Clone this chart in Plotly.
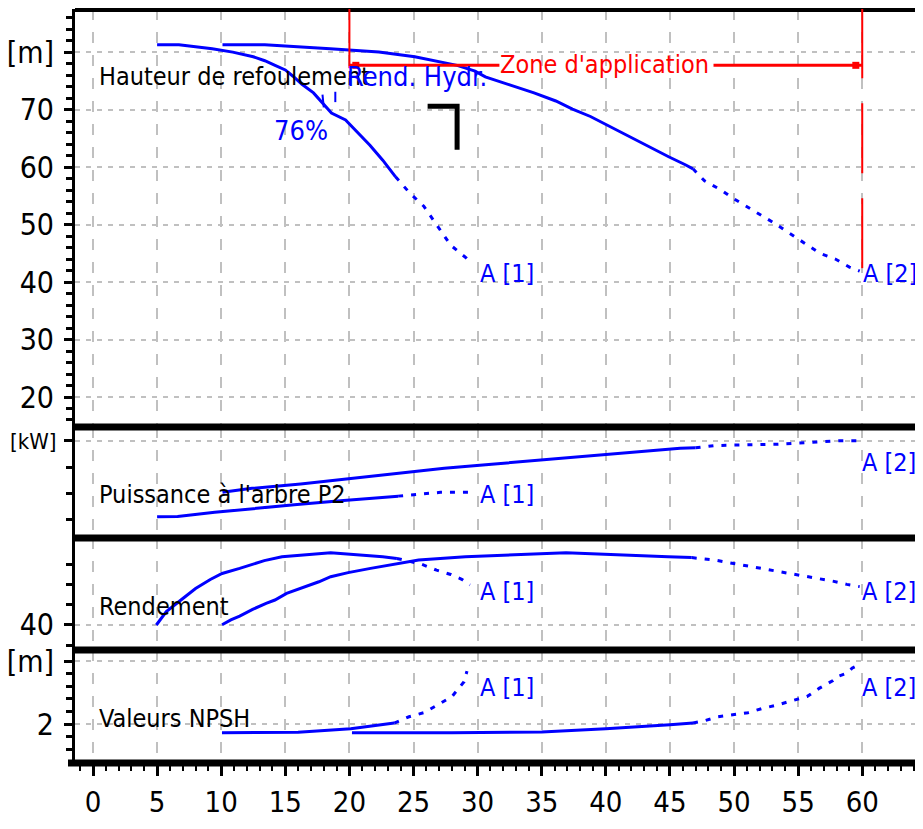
import plotly.graph_objects as go

# ---------------- data ----------------
flow_ticks = list(range(0, 61, 5))

# Hauteur de refoulement [m]
head1_q = [5.0, 6.7, 9.3, 10.9, 12.5, 13.4, 14.2, 15.0, 15.6, 16.3, 17.2, 18.1, 18.6, 19.7, 20.7, 21.6, 22.6, 23.6]
head1_h = [81.3, 81.3, 80.6, 80.0, 79.2, 78.5, 77.7, 76.9, 75.8, 74.4, 72.9, 70.6, 69.4, 68.2, 65.9, 63.8, 61.2, 58.3]
head1_q_ext = [23.6, 24.7, 25.8, 26.8, 27.9, 29.1, 29.4]
head1_h_ext = [58.3, 55.5, 53.2, 49.9, 46.4, 44.2, 43.5]

head2_q = [10.1, 13.4, 18.5, 22.3, 25.1, 26.7, 28.4, 29.8, 30.6, 32.5, 34.4, 36.1, 37.4, 38.8, 40.0, 41.3, 42.5, 43.7, 44.9, 46.2, 46.8]
head2_h = [81.3, 81.3, 80.6, 80.0, 79.2, 78.5, 77.7, 76.7, 75.7, 74.3, 72.9, 71.5, 70.1, 68.8, 67.4, 66.0, 64.6, 63.2, 61.8, 60.4, 59.7]
head2_q_ext = [46.8, 47.7, 49.0, 49.9, 53.1, 54.5, 55.6, 56.7, 57.9, 59.0, 59.8]
head2_h_ext = [59.7, 57.6, 56.0, 54.6, 50.3, 48.2, 46.6, 45.0, 44.0, 42.6, 41.9]

# Puissance a l'arbre P2 [kW]
pow1_q = [5.0, 6.6, 9.5, 12.3, 15.7, 19.3, 22.5, 23.8]
pow1_p = [2.280, 2.282, 2.322, 2.356, 2.394, 2.432, 2.468, 2.476]
pow1_q_ext = [23.8, 25.5, 27.1, 29.4]
pow1_p_ext = [2.476, 2.496, 2.512, 2.512]

pow2_q = [10.1, 12.4, 16.2, 19.0, 21.8, 24.6, 27.4, 31.1, 34.9, 38.6, 42.5, 45.8, 47.0]
pow2_p = [2.512, 2.550, 2.591, 2.629, 2.667, 2.702, 2.740, 2.779, 2.817, 2.855, 2.893, 2.931, 2.935]
pow2_q_ext = [47.0, 48.5, 53.4, 58.4, 59.8]
pow2_p_ext = [2.935, 2.957, 2.969, 3.003, 3.003]

# Rendement [%]
eff1_q = [4.94, 5.72, 6.86, 8.0, 9.15, 10.07, 11.44, 13.36, 14.74, 18.54, 22.6, 23.7]
eff1_e = [40.0, 46.6, 52.3, 58.0, 62.4, 65.4, 67.9, 71.7, 73.6, 75.6, 73.6, 72.8]
eff1_q_ext = [23.7, 25.6, 26.8, 27.9, 28.8, 29.4]
eff1_e_ext = [72.8, 70.0, 67.0, 64.9, 62.4, 59.7]

eff2_q = [10.07, 10.75, 11.44, 12.45, 13.5, 14.19, 15.1, 16.25, 17.62, 18.54, 19.9, 21.65, 23.43, 25.4, 29.05, 36.9, 44.85, 46.7]
eff2_e = [40.1, 42.5, 44.4, 47.7, 50.7, 52.3, 55.6, 58.1, 61.3, 63.8, 65.8, 67.9, 70.0, 72.0, 73.6, 75.6, 73.6, 73.2]
eff2_q_ext = [46.7, 48.5, 49.7, 50.8, 51.9, 53.1, 54.2, 55.4, 56.5, 57.7, 58.8, 59.8]
eff2_e_ext = [73.2, 72.0, 70.6, 69.4, 68.2, 67.0, 65.8, 64.4, 63.0, 61.6, 60.0, 58.9]

# Valeurs NPSH [m]
npsh1_q = [10.06, 16.0, 20.1, 22.5, 23.5]
npsh1_n = [1.72, 1.74, 1.85, 1.98, 2.03]
npsh1_q_ext = [23.5, 24.65, 25.82, 26.91, 28.0, 28.24, 28.94, 29.17]
npsh1_n_ext = [2.03, 2.23, 2.36, 2.61, 2.87, 2.99, 3.34, 3.68]

npsh2_q = [20.2, 28.0, 35.0, 40.0, 45.0, 46.8]
npsh2_n = [1.72, 1.72, 1.75, 1.85, 1.98, 2.03]
npsh2_q_ext = [46.8, 47.74, 48.75, 51.09, 52.26, 53.35, 54.52, 55.69, 56.63, 57.72, 58.03, 58.89, 59.2, 59.91]
npsh2_n_ext = [2.03, 2.11, 2.23, 2.36, 2.5, 2.6, 2.74, 2.87, 3.13, 3.38, 3.5, 3.63, 3.77, 3.91]

zone_start, zone_end = 20, 60
eta_label = "76%"

# ---------------- style ----------------
FONT = "Liberation Sans Narrow, DejaVu Sans Condensed, Liberation Sans, sans-serif"
BLUE = "#0000ff"
RED = "#ff0000"
GRID = "#c0c0c0"
PAGE = 8                      # default body margin of the html page
W, H = 923 - PAGE, 829 - PAGE
LEFT, TOP, BOT = 75, 9, 762   # plot area in window pixels


def f(py):
    return (BOT - py) / (BOT - TOP)


fig = go.Figure()


def curve(q, v, xa, ya, dotted=False):
    fig.add_trace(go.Scatter(
        x=q, y=v, mode="lines", xaxis=xa, yaxis=ya, hoverinfo="skip",
        line=dict(color=BLUE, width=3, dash="5px,8px" if dotted else "solid"),
    ))


curve(head1_q, head1_h, "x", "y")
curve(head1_q_ext, head1_h_ext, "x", "y", True)
curve(head2_q, head2_h, "x", "y")
curve(head2_q_ext, head2_h_ext, "x", "y", True)
curve(pow1_q, pow1_p, "x2", "y2")
curve(pow1_q_ext, pow1_p_ext, "x2", "y2", True)
curve(pow2_q, pow2_p, "x2", "y2")
curve(pow2_q_ext, pow2_p_ext, "x2", "y2", True)
curve(eff1_q, eff1_e, "x3", "y3")
curve(eff1_q_ext, eff1_e_ext, "x3", "y3", True)
curve(eff2_q, eff2_e, "x3", "y3")
curve(eff2_q_ext, eff2_e_ext, "x3", "y3", True)
curve(npsh1_q, npsh1_n, "x4", "y4")
curve(npsh1_q_ext, npsh1_n_ext, "x4", "y4", True)
curve(npsh2_q, npsh2_n, "x4", "y4")
curve(npsh2_q_ext, npsh2_n_ext, "x4", "y4", True)

# black corner mark (Rend. Hydr. indicator)
fig.add_trace(go.Scatter(x=[26.1, 28.4, 28.4], y=[70.6, 70.6, 63.0], mode="lines",
                         xaxis="x", yaxis="y", hoverinfo="skip",
                         line=dict(color="black", width=5)))
# small blue ticks at the efficiency iso point
fig.add_trace(go.Scatter(x=[17.9, 18.0, None, 18.9, 18.9], y=[72.6, 70.4, None, 73.1, 71.3],
                         mode="lines", xaxis="x", yaxis="y", hoverinfo="skip",
                         line=dict(color=BLUE, width=2)))
# zone arrow end markers
fig.add_trace(go.Scatter(x=[zone_start + 0.5, zone_end - 0.5], y=[77.7, 77.7], mode="markers",
                         xaxis="x", yaxis="y", hoverinfo="skip",
                         marker=dict(color=RED, size=7, symbol="square")))

xr = [-1.404, 64.74]
xcommon = dict(range=xr, showgrid=True, gridcolor=GRID, griddash="11px,12px", gridwidth=2,
               zeroline=False, showline=False, tick0=0, dtick=5, automargin=False)

lay = dict(
    width=W, height=H,
    margin=dict(l=LEFT - PAGE, r=0, t=TOP - PAGE, b=H - (BOT - PAGE), autoexpand=False),
    paper_bgcolor="white", plot_bgcolor="white",
    showlegend=False,
    font=dict(family=FONT, color="black", size=30),
)
lay["xaxis"] = dict(xcommon, anchor="y", showticklabels=False, ticks="")
lay["xaxis2"] = dict(xcommon, anchor="y2", showticklabels=False, ticks="")
lay["xaxis3"] = dict(xcommon, anchor="y3", showticklabels=False, ticks="")
lay["xaxis4"] = dict(xcommon, anchor="y4", ticks="outside", ticklen=13, tickwidth=3,
                     tickcolor="black", tickvals=flow_ticks,
                     ticktext=[str(t) for t in flow_ticks],
                     minor=dict(dtick=1, tick0=0, ticks="outside", ticklen=8, tickwidth=2,
                                tickcolor="black", showgrid=False),
                     tickfont=dict(family=FONT, size=29), ticklabelstandoff=1)

ycommon = dict(showline=True, linecolor="black", linewidth=3, ticks="outside", ticklen=8,
               tickwidth=3, tickcolor="black", zeroline=False, automargin=False,
               tickfont=dict(family=FONT, size=30), ticklabelstandoff=4,
               gridcolor=GRID, griddash="5px,6px", gridwidth=2)

lay["yaxis"] = dict(ycommon, domain=[f(427), 1], range=[14.78, 87.5], anchor="x",
                    tickvals=[20, 30, 40, 50, 60, 70, 80],
                    ticktext=["20", "30", "40", "50", "60", "70", "[m]"], showgrid=True,
                    minor=dict(dtick=2, tick0=0, ticks="outside", ticklen=6, tickwidth=3,
                               tickcolor="black", showgrid=False))
lay["yaxis2"] = dict(ycommon, domain=[f(538), f(427)], range=[2.078, 3.133], anchor="x2",
                     tickvals=[3.0], ticktext=["[kW]"], showgrid=True,
                     tickfont=dict(family=FONT, size=22), ticklabelstandoff=3,
                     minor=dict(tickvals=[2.25, 2.5, 2.75], ticks="outside", ticklen=6,
                                tickwidth=3, tickcolor="black", showgrid=False))
lay["yaxis3"] = dict(ycommon, domain=[f(650), f(538)], range=[27.68, 82.86], anchor="x3",
                     tickvals=[40], ticktext=["40"], showgrid=True,
                     minor=dict(tickvals=[30, 50, 60, 70], ticks="outside", ticklen=6,
                                tickwidth=3, tickcolor="black", showgrid=False))
lay["yaxis4"] = dict(ycommon, domain=[0, f(650)], range=[0.794, 4.349], anchor="x4",
                     tickvals=[2, 4], ticktext=["2", "[m]"], showgrid=True,
                     minor=dict(tickvals=[1.2, 1.6, 2.4, 2.8, 3.2, 3.6], ticks="outside",
                                ticklen=6, tickwidth=3, tickcolor="black", showgrid=False))
fig.update_layout(**lay)

# ---------------- shapes ----------------
shapes = []
# top border
shapes.append(dict(type="line", xref="paper", yref="paper", x0=0, x1=1, y0=f(10), y1=f(10),
                   line=dict(color="black", width=4), layer="above"))
# panel separators
for py in (427, 538, 650):
    shapes.append(dict(type="line", xref="paper", yref="paper", x0=0, x1=1,
                       y0=f(py), y1=f(py), line=dict(color="black", width=7), layer="above"))
# bottom axis line
shapes.append(dict(type="line", xref="paper", yref="paper", x0=-7 / 848, x1=1,
                   y0=f(763), y1=f(763), line=dict(color="black", width=7), layer="above"))
# zone d'application
shapes.append(dict(type="line", xref="x", yref="y", x0=zone_start, x1=zone_start,
                   y0=87.65, y1=77.2, line=dict(color=RED, width=2)))
shapes.append(dict(type="line", xref="x", yref="y", x0=zone_end, x1=zone_end,
                   y0=87.65, y1=42.4, line=dict(color=RED, width=2, dash="70px,25px")))
shapes.append(dict(type="line", xref="x", yref="y", x0=zone_start, x1=31.7,
                   y0=77.7, y1=77.7, line=dict(color=RED, width=3)))
shapes.append(dict(type="line", xref="x", yref="y", x0=48.4, x1=zone_end,
                   y0=77.7, y1=77.7, line=dict(color=RED, width=3)))
fig.update_layout(shapes=shapes)

# ---------------- annotations ----------------
ann = []


def txt(x, y, s, xr_, yr_, color="black", size=25, xanchor="left"):
    ann.append(dict(x=x, y=y, xref=xr_, yref=yr_, text=s, showarrow=False,
                    xanchor=xanchor, yanchor="middle",
                    font=dict(family=FONT, size=size, color=color)))


txt(0.3, 75.8, "Hauteur de refoulement", "x", "y")
txt(19.66, 75.8, "Rend. Hydr.", "x", "y", BLUE, size=27)
txt(16.2, 66.4, eta_label, "x", "y", BLUE, size=27, xanchor="center")
txt(39.9, 77.9, "Zone d'application", "x", "y", RED, xanchor="center")
txt(30.0, 41.4, "A [1]", "x", "y", BLUE)
txt(59.9, 41.4, "A [2]", "x", "y", BLUE)

txt(0.3, 2.496, "Puissance à l'arbre P2", "x2", "y2")
txt(30.0, 2.487, "A [1]", "x2", "y2", BLUE)
txt(59.8, 2.80, "A [2]", "x2", "y2", BLUE)

txt(0.3, 48.9, "Rendement", "x3", "y3")
txt(30.0, 56.7, "A [1]", "x3", "y3", BLUE)
txt(59.8, 56.7, "A [2]", "x3", "y3", BLUE)

txt(0.3, 2.16, "Valeurs NPSH", "x4", "y4")
txt(30.0, 3.17, "A [1]", "x4", "y4", BLUE)
txt(59.8, 3.17, "A [2]", "x4", "y4", BLUE)

fig.update_layout(annotations=ann)

fig.write_html("out.html")
